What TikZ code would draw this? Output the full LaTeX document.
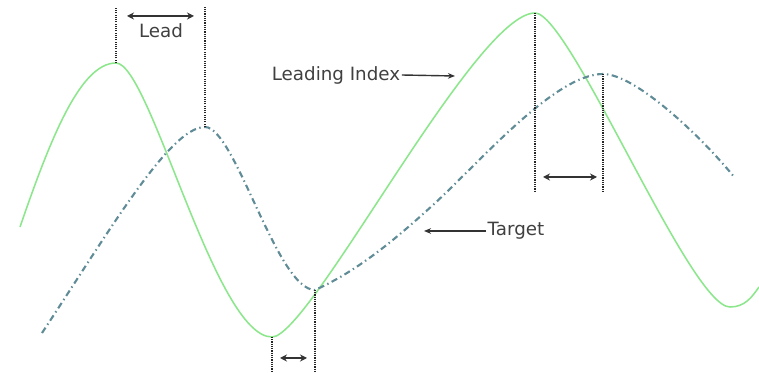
\documentclass[tikz,border=0pt]{standalone}
\usepackage{fontspec}
\setmainfont{DejaVu Sans}
\usetikzlibrary{arrows.meta,positioning}
\definecolor{leadgreen}{RGB}{140,230,140}
\definecolor{targetgrey}{RGB}{95,140,150}
\tikzset{
  indexline/.style={leadgreen, line width=1.1pt},
  targetline/.style={targetgrey, line width=1.5pt, dash pattern=on 4.5pt off 2.5pt on 1pt off 2.5pt},
  guideline/.style={black!85, dash pattern=on 0.8pt off 0.8pt, line width=0.8pt},
  spanarrow/.style={{Stealth[length=5pt,width=5pt]}-{Stealth[length=5pt,width=5pt]}, line width=1.1pt, black!80},
  pointarrow/.style={-{Stealth[length=5pt,width=4pt]}, line width=1pt, black!80},
  tagtext/.style={font=\fontsize{13}{15}\selectfont, text=black!75, inner sep=1pt},
}

\begin{document}
\begin{tikzpicture}[x=0.025cm, y=-0.025cm]
  \useasboundingbox (0,0) rectangle (759,373);
  % turning points
  \coordinate (gpeak) at (116,63);
  \coordinate (tpeak) at (205,127);
  \coordinate (gtrough) at (272,337);
  \coordinate (ttrough) at (315,290);
  \coordinate (gtop) at (535,13);
  \coordinate (ttop) at (603,74);
  % leading index (green)
  \draw[indexline] (20,227) .. controls (50,140) and (80,63) .. (gpeak)
    .. controls (150,63) and (215,337) .. (gtrough)
    .. controls (310,337) and (475,13) .. (gtop)
    .. controls (570,13) and (690,307) .. (730,307)
    .. controls (745,307) and (752,297) .. (759,287);
  % target (dash-dot)
  \draw[targetline] (42,333) .. controls (110,230) and (170,127) .. (tpeak)
    .. controls (235,127) and (277,290) .. (ttrough)
    .. controls (360,270) and (400,235) .. (433,205)
    .. controls (480,162) and (555,74) .. (ttop)
    .. controls (635,74) and (700,135) .. (735,178);
  % guides
  \coordinate (gpeakup) at (116,7);
  \coordinate (tpeakup) at (205,7);
  \coordinate (gtroughdn) at (272,373);
  \coordinate (ttroughdn) at (315,373);
  \coordinate (gtopdn) at (535,192);
  \coordinate (ttopdn) at (603,192);
  \draw[guideline] (gpeak) -- (gpeakup);
  \draw[guideline] (tpeak) -- (tpeakup);
  \draw[guideline] (gtrough) -- (gtroughdn);
  \draw[guideline] (ttrough) -- (ttroughdn);
  \draw[guideline] (gtop) -- (gtopdn);
  \draw[guideline] (ttop) -- (ttopdn);
  % lead spans
  \coordinate (lead1a) at (127,16);
  \coordinate (lead1b) at (194,16);
  \coordinate (lead2a) at (280,358);
  \coordinate (lead2b) at (307,358);
  \coordinate (lead3a) at (543,177);
  \coordinate (lead3b) at (597,177);
  \draw[spanarrow] (lead1a) -- (lead1b);
  \draw[spanarrow] (lead2a) -- (lead2b);
  \draw[spanarrow] (lead3a) -- (lead3b);
  % labels
  \node[tagtext] (leadtxt) at (161,31) {Lead};
  \node[tagtext] (indextxt) at (336,75) {Leading Index};
  \node[tagtext] (targettxt) at (516,231) {Target};
  \coordinate (indexhit) at (455,76);
  \coordinate (targethit) at (424,231);
  \draw[pointarrow] (indextxt.east) -- (indexhit);
  \draw[pointarrow] (targettxt.west) -- (targethit);
\end{tikzpicture}
\end{document}
